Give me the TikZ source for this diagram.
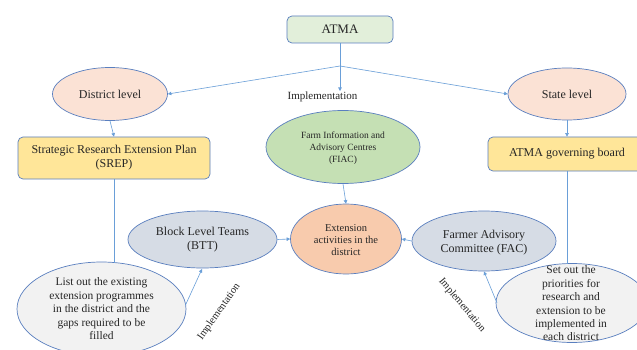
\documentclass[tikz,border=0pt]{standalone}
\usepackage{fontspec}
\setmainfont{Liberation Serif}
\newfontfamily\tnr{Liberation Serif}
\usetikzlibrary{shapes.geometric,arrows.meta}
\definecolor{bord}{HTML}{5A7FBF}
\definecolor{arr}{HTML}{6A9FD8}
\definecolor{fatma}{HTML}{E2EFDA}
\definecolor{fpeach}{HTML}{FBE2D5}
\definecolor{fyellow}{HTML}{FFE699}
\definecolor{fgreen}{HTML}{C5E0B4}
\definecolor{forange}{HTML}{F8CBAD}
\definecolor{fblue}{HTML}{D6DCE5}
\definecolor{fgray}{HTML}{F2F2F2}
\tikzset{
  rbox/.style={draw=bord, line width=0.7pt, rounded corners=5pt, inner sep=0pt},
  ell/.style={draw=bord, line width=0.7pt, ellipse, inner sep=0pt},
  lbl/.style={align=center, inner sep=0pt, text=black!85},
  conn/.style={draw=arr, line width=0.6pt, -{Triangle[length=3.5pt,width=3.5pt]}},
  plain/.style={draw=arr, line width=0.6pt},
}
\newcommand{\fs}[2]{\tnr\fontsize{#1}{#2}\selectfont}
\begin{document}
\begin{tikzpicture}[x=1pt,y=-1pt]
\useasboundingbox (0,0) rectangle (637,350);
\fill[white] (0,0) rectangle (637,350);
\begin{scope}
\clip (0,0) rectangle (637,350);
% boxes
\node[rbox, fill=fatma, minimum width=106pt, minimum height=27pt] (atma) at (340,29.5) {};
\node[lbl, font=\fs{13}{15}] (atmat) at (340,29.5) {ATMA};
\node[rbox, fill=fyellow, minimum width=192pt, minimum height=42pt] (srep) at (114,158) {};
\node[lbl, font=\fs{12}{14}] (srept) at (114,158) {Strategic Research Extension Plan\\(SREP)};
\node[rbox, fill=fyellow, minimum width=158pt, minimum height=34pt] (board) at (567,154) {};
\node[lbl, font=\fs{12}{14}] (boardt) at (567,154) {ATMA governing board};
% ellipses
\node[ell, fill=fpeach, minimum width=115pt, minimum height=53pt] (dist) at (110,94) {};
\node[lbl, font=\fs{12}{14}] (distt) at (110,94) {District level};
\node[ell, fill=fpeach, minimum width=118pt, minimum height=52pt] (state) at (567,94) {};
\node[lbl, font=\fs{12}{14}] (statet) at (567,94) {State level};
\node[ell, fill=fgreen, minimum width=154pt, minimum height=73pt] (fiac) at (343,147) {};
\node[lbl, font=\fs{9.5}{12}] (fiact) at (343,148) {Farm Information and\\Advisory Centres\\(FIAC)};
\node[ell, fill=forange, minimum width=111pt, minimum height=70pt] (ext) at (346,239) {};
\node[lbl, font=\fs{10.5}{12}] (extt) at (346,240) {Extension\\activities in the\\district};
\node[ell, fill=fblue, minimum width=149pt, minimum height=57pt] (btt) at (202.5,239.5) {};
\node[lbl, font=\fs{12}{14}] (bttt) at (202.5,240) {Block Level Teams\\(BTT)};
\node[ell, fill=fblue, minimum width=144pt, minimum height=60pt] (fac) at (484,241) {};
\node[lbl, font=\fs{12}{14.5}] (fact) at (484,242.5) {Farmer Advisory\\Committee (FAC)};
\node[ell, fill=fgray, minimum width=169pt, minimum height=94pt] (list) at (101.5,309) {};
\node[lbl, font=\fs{11.5}{13.5}] (listt) at (101.5,309) {List out the existing\\extension programmes\\in the district and the\\gaps required to be\\filled};
\node[ell, fill=fgray, minimum width=152pt, minimum height=79pt] (setout) at (572,303) {};
\node[lbl, font=\fs{11.5}{13.4}] (setoutt) at (571,303.5) {Set out the\\priorities for\\research and\\extension to be\\implemented in\\each district};
% top implementation
\node[lbl, font=\fs{11}{13}] (impl) at (322.5,97) {Implementation};
\coordinate (br) at (340,66);
\coordinate (implTop) at (340,91);
% connectors
\path[plain] (atma.south) -- (br);
\path[conn] (br) -- (dist.east);
\path[conn] (br) -- (state.west);
\path[conn] (br) -- (implTop);
\path[conn] (dist.south) -- (srep.north);
\path[conn] (state.south) -- (board.north);
\coordinate (listTop) at (114,262.5);
\path[plain] (srep.south) -- (listTop);
\coordinate (setTop) at (567,263.5);
\path[plain] (board.south) -- (setTop);
\path[conn] (fiac.south) -- (ext.north);
\path[conn] (btt.east) -- (ext.west);
\path[conn] (fac.west) -- (ext.east);
\coordinate (la) at (185.5,305);
\coordinate (lb) at (202,269);
\path[conn] (la) -- (lb);
\coordinate (ra) at (497,303);
\coordinate (rb) at (484,271.5);
\path[conn] (ra) -- (rb);
\node[lbl, font=\fs{10.5}{12}, rotate=55] (implL) at (219,312) {Implementation};
\node[lbl, font=\fs{10.5}{12}, rotate=-50] (implR) at (462,305) {Implementation};
\end{scope}
\end{tikzpicture}
\end{document}
